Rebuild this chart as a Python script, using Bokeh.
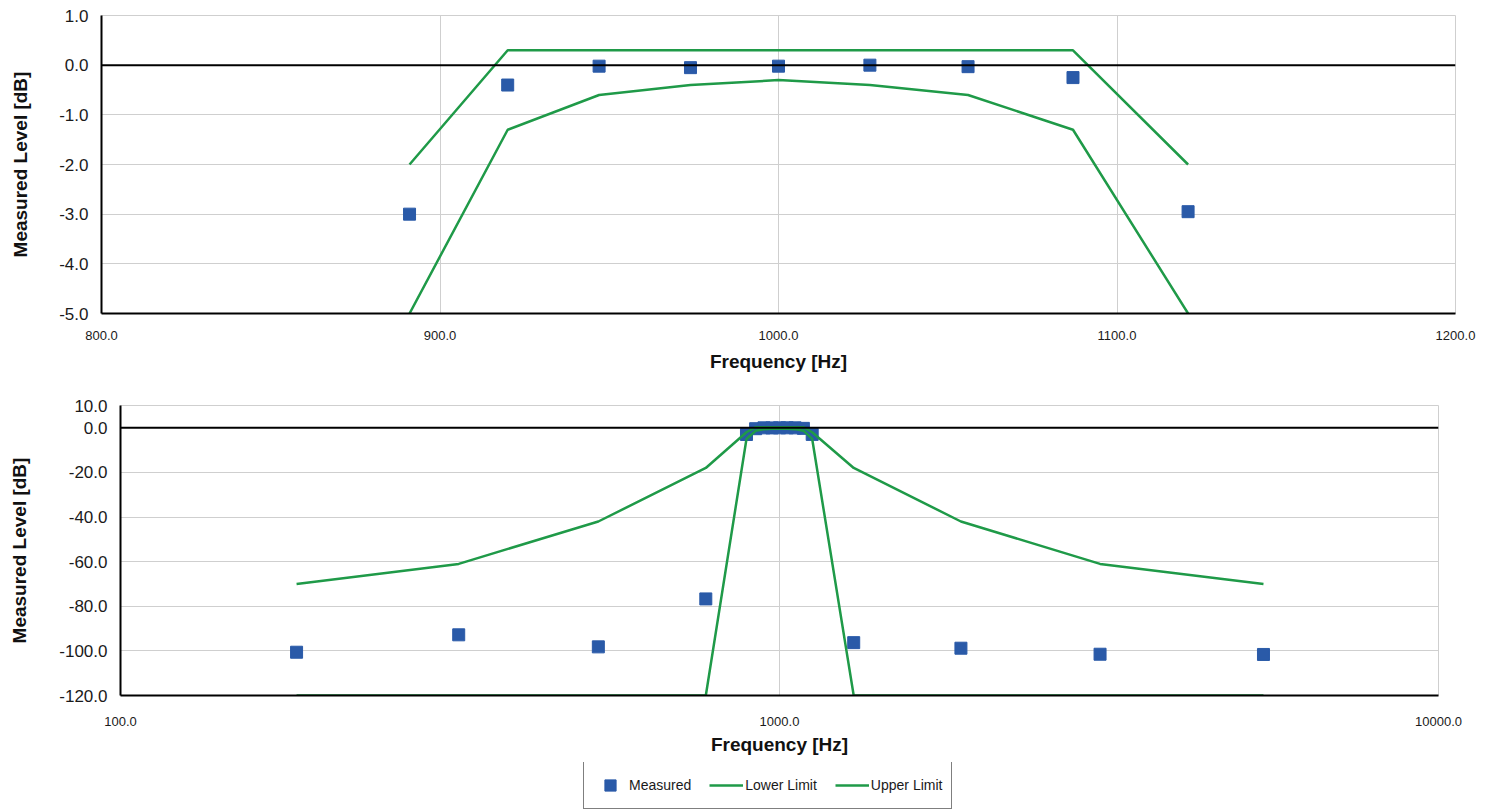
from bokeh.plotting import figure
from bokeh.models import (FixedTicker, PrintfTickFormatter, Span, Legend, LegendItem,
                          Range1d)
from bokeh.embed import file_html
from bokeh.resources import INLINE

# ---------------- data ----------------
# pass band (1/3-octave filter around 1000 Hz)
pass_freq = [891, 920, 947, 974, 1000, 1027, 1056, 1087, 1121]
pass_measured = [-3.0, -0.40, -0.02, -0.05, -0.02, 0.0, -0.03, -0.25, -2.95]
pass_lower = [-5.0, -1.3, -0.6, -0.4, -0.3, -0.4, -0.6, -1.3, -5.0]
pass_upper = [-2.0, 0.3, 0.3, 0.3, 0.3, 0.3, 0.3, 0.3, -2.0]

# stop band, below and above the pass band
stop_lo_freq = [185, 326, 531, 773]
stop_lo_measured = [-100.6, -92.8, -98.2, -76.7]
stop_lo_lower = [-120.0, -120.0, -120.0, -120.0]
stop_lo_upper = [-70.0, -61.0, -42.0, -18.0]

stop_hi_freq = [1296, 1885, 3065, 5425]
stop_hi_measured = [-96.3, -98.8, -101.5, -101.6]
stop_hi_lower = [-120.0, -120.0, -120.0, -120.0]
stop_hi_upper = [-18.0, -42.0, -61.0, -70.0]

top_x_ticks = [800, 900, 1000, 1100, 1200]
top_y_ticks = [-5, -4, -3, -2, -1, 0, 1]
bot_x_ticks = [100, 1000, 10000]
bot_y_ticks = [-120, -100, -80, -60, -40, -20, 0, 10]

x_title = "Frequency [Hz]"
y_title = "Measured Level [dB]"
legend_labels = ["Measured", "Lower Limit", "Upper Limit"]

all_freq = stop_lo_freq + pass_freq + stop_hi_freq
all_measured = stop_lo_measured + pass_measured + stop_hi_measured
all_lower = stop_lo_lower + pass_lower + stop_hi_lower
all_upper = stop_lo_upper + pass_upper + stop_hi_upper

FONT = "Liberation Sans"
GREEN = "#1f9a48"
BLUE = "#2a5aa8"
GRID = "#cfcfcf"


def style(p, xticks, yticks, xtick_standoff, ylab_standoff, xlab_standoff):
    p.background_fill_color = "white"
    p.border_fill_color = "white"
    p.outline_line_color = GRID
    p.outline_line_width = 1
    p.xaxis.ticker = FixedTicker(ticks=xticks)
    p.yaxis.ticker = FixedTicker(ticks=yticks)
    p.xaxis.formatter = PrintfTickFormatter(format="%.1f")
    p.yaxis.formatter = PrintfTickFormatter(format="%.1f")
    for ax in (p.xaxis, p.yaxis):
        ax.axis_line_color = "black"
        ax.axis_line_width = 2
        ax.major_tick_line_color = None
        ax.minor_tick_line_color = None
        ax.major_tick_out = 0
        ax.major_tick_in = 0
        ax.minor_tick_out = 0
        ax.major_label_text_font = FONT
        ax.major_label_text_color = "#1a1a1a"
        ax.axis_label_text_font = FONT
        ax.axis_label_text_font_style = "bold"
        ax.axis_label_text_font_size = "19px"
        ax.axis_label_text_color = "#111111"
    p.xaxis.axis_label = x_title
    p.yaxis.axis_label = y_title
    p.xaxis.major_label_text_font_size = "13px"
    p.yaxis.major_label_text_font_size = "17px"
    p.yaxis.major_label_standoff = 13
    p.xaxis.major_label_standoff = xtick_standoff
    p.yaxis.axis_label_standoff = ylab_standoff
    p.xaxis.axis_label_standoff = xlab_standoff
    p.xgrid.grid_line_color = GRID
    p.ygrid.grid_line_color = GRID
    p.xgrid.grid_line_width = 1
    p.ygrid.grid_line_width = 1
    p.add_layout(Span(location=0, dimension="width", line_color="black", line_width=2))


# ---------------- top chart: pass band detail ----------------
p1 = figure(width=1477, height=375,
            x_range=Range1d(800, 1200), y_range=Range1d(-5, 1),
            output_backend="svg", toolbar_location=None,
            min_border_left=101, min_border_right=22,
            min_border_top=15, min_border_bottom=62)
style(p1, top_x_ticks, top_y_ticks, xtick_standoff=17, ylab_standoff=25, xlab_standoff=8)
p1.scatter(pass_freq, pass_measured, marker="square", size=12,
           fill_color=BLUE, line_color=BLUE)
p1.line(pass_freq, pass_lower, line_color=GREEN, line_width=2.5)
p1.line(pass_freq, pass_upper, line_color=GREEN, line_width=2.5)

# ---------------- bottom chart: full response ----------------
p2 = figure(width=1477, height=387,
            x_axis_type="log",
            x_range=Range1d(100, 10000), y_range=Range1d(-120, 10),
            output_backend="svg", toolbar_location=None,
            min_border_left=120, min_border_right=39,
            min_border_top=30, min_border_bottom=67)
style(p2, bot_x_ticks, bot_y_ticks, xtick_standoff=21, ylab_standoff=26, xlab_standoff=5)
p2.scatter(all_freq, all_measured, marker="square", size=12,
           fill_color=BLUE, line_color=BLUE)
p2.line(all_freq, all_lower, line_color=GREEN, line_width=2.5)
p2.line(all_freq, all_upper, line_color=GREEN, line_width=2.5)

# ---------------- legend strip under the bottom chart ----------------
# same series, drawn with the same styles; the strip's ranges keep the marks
# themselves out of view so only the legend (with its glyph samples) shows
p3 = figure(width=1477, height=48, x_range=Range1d(0, 1), y_range=Range1d(0, 1),
            x_axis_location=None, y_axis_location=None,
            output_backend="svg", toolbar_location=None, min_border=0)
p3.grid.visible = False
p3.outline_line_color = None
p3.background_fill_color = "white"
p3.border_fill_color = "white"
g_meas = p3.scatter(all_freq, all_measured, marker="square", size=12,
                    fill_color=BLUE, line_color=BLUE)
g_low = p3.line(all_freq, all_lower, line_color=GREEN, line_width=2.5)
g_up = p3.line(all_freq, all_upper, line_color=GREEN, line_width=2.5)

legend = Legend(items=[LegendItem(label=legend_labels[0], renderers=[g_meas]),
                       LegendItem(label=legend_labels[1], renderers=[g_low]),
                       LegendItem(label=legend_labels[2], renderers=[g_up])],
                orientation="horizontal", location=(583, 1))
legend.label_text_font = FONT
legend.label_text_font_size = "14px"
legend.label_text_color = "#1a1a1a"
legend.padding = 9
legend.spacing = 18
legend.glyph_width = 34
legend.glyph_height = 28
legend.label_height = 28
legend.label_standoff = 2
legend.border_line_color = "black"
legend.border_line_width = 1
legend.background_fill_color = "white"
legend.background_fill_alpha = 1.0
legend.margin = 0
p3.add_layout(legend)

open("out.html", "w").write(file_html([p1, p2, p3], INLINE))
